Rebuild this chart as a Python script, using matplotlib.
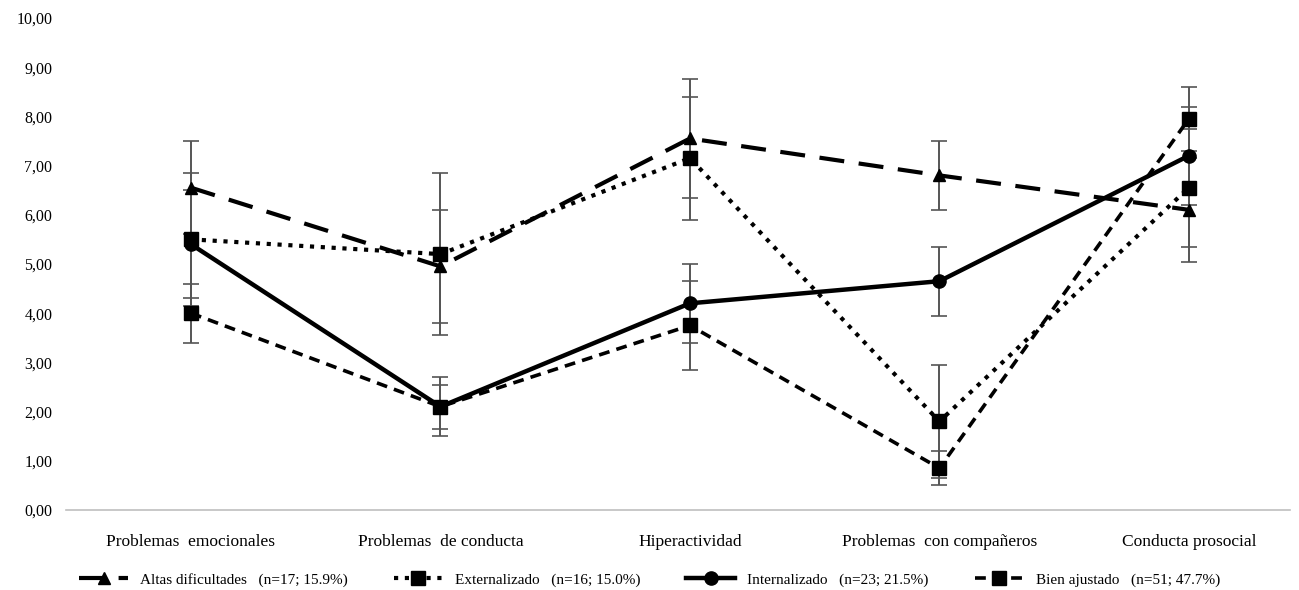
import numpy as np
import matplotlib
matplotlib.use('Agg')
from matplotlib import pyplot as plt

plt.rcParams['font.family'] = ['Liberation Serif', 'DejaVu Serif']

categories = ['Problemas  emocionales', 'Problemas  de conducta', 'Hiperactividad',
              'Problemas  con compañeros', 'Conducta prosocial']

# means and error bar half-widths
altas = [6.55, 4.95, 7.55, 6.80, 6.10]
altas_err = [0.95, 1.15, 1.20, 0.70, 1.05]
externalizado = [5.50, 5.20, 7.15, 1.80, 6.55]
externalizado_err = [1.35, 1.65, 1.25, 1.15, 1.20]
internalizado = [5.40, 2.10, 4.20, 4.65, 7.20]
internalizado_err = [1.10, 0.60, 0.80, 0.70, 1.00]
bien = [4.00, 2.10, 3.75, 0.85, 7.95]
bien_err = [0.60, 0.45, 0.90, 0.35, 0.65]

labels = ['Altas dificultades   (n=17; 15.9%)', 'Externalizado   (n=16; 15.0%)',
          'Internalizado   (n=23; 21.5%)', 'Bien ajustado   (n=51; 47.7%)']

x = np.arange(len(categories))

fig = plt.figure(figsize=(12.99, 5.90), dpi=100)
ax = fig.add_axes([0.051, 0.1356, 0.942, 0.834])

series = [
    (altas, altas_err, (0, (6, 3.5)), '^', 3.0, 8.5),
    (externalizado, externalizado_err, (0, (1, 1.6)), 's', 3.0, 10),
    (internalizado, internalizado_err, '-', 'o', 3.2, 9.5),
    (bien, bien_err, (0, (3, 2)), 's', 2.6, 10),
]

for (vals, err, ls, mk, lw, ms), lab in zip(series, labels):
    ax.errorbar(x, vals, yerr=err, fmt='none', ecolor='#555555', elinewidth=1.4,
                capsize=5.5, capthick=1.2, zorder=2)
    ax.plot(x, vals, color='black', linestyle=ls, linewidth=lw, marker=mk,
            markersize=ms, markerfacecolor='black', markeredgecolor='black',
            label=lab, zorder=3)

ax.set_xlim(-0.5, 4.405)
ax.set_ylim(0, 10)
ax.set_yticks(np.arange(0, 11, 1))
ax.set_yticklabels(['{:.2f}'.format(v).replace('.', ',') for v in range(0, 11)], fontsize=11.5)
ax.set_xticks(x)
ax.set_xticklabels(categories, fontsize=12.5)
ax.tick_params(axis='y', length=0, pad=10)
ax.tick_params(axis='x', length=0, pad=17)
for s in ['top', 'right', 'left']:
    ax.spines[s].set_visible(False)
ax.spines['bottom'].set_color('#bfbfbf')
ax.spines['bottom'].set_linewidth(1.2)

fig.legend(loc='lower center', bbox_to_anchor=(0.5, -0.018), ncol=4, frameon=False,
           fontsize=11, handlelength=3.2, columnspacing=3.0, handletextpad=0.8)

fig.savefig('out.png', dpi=100)
